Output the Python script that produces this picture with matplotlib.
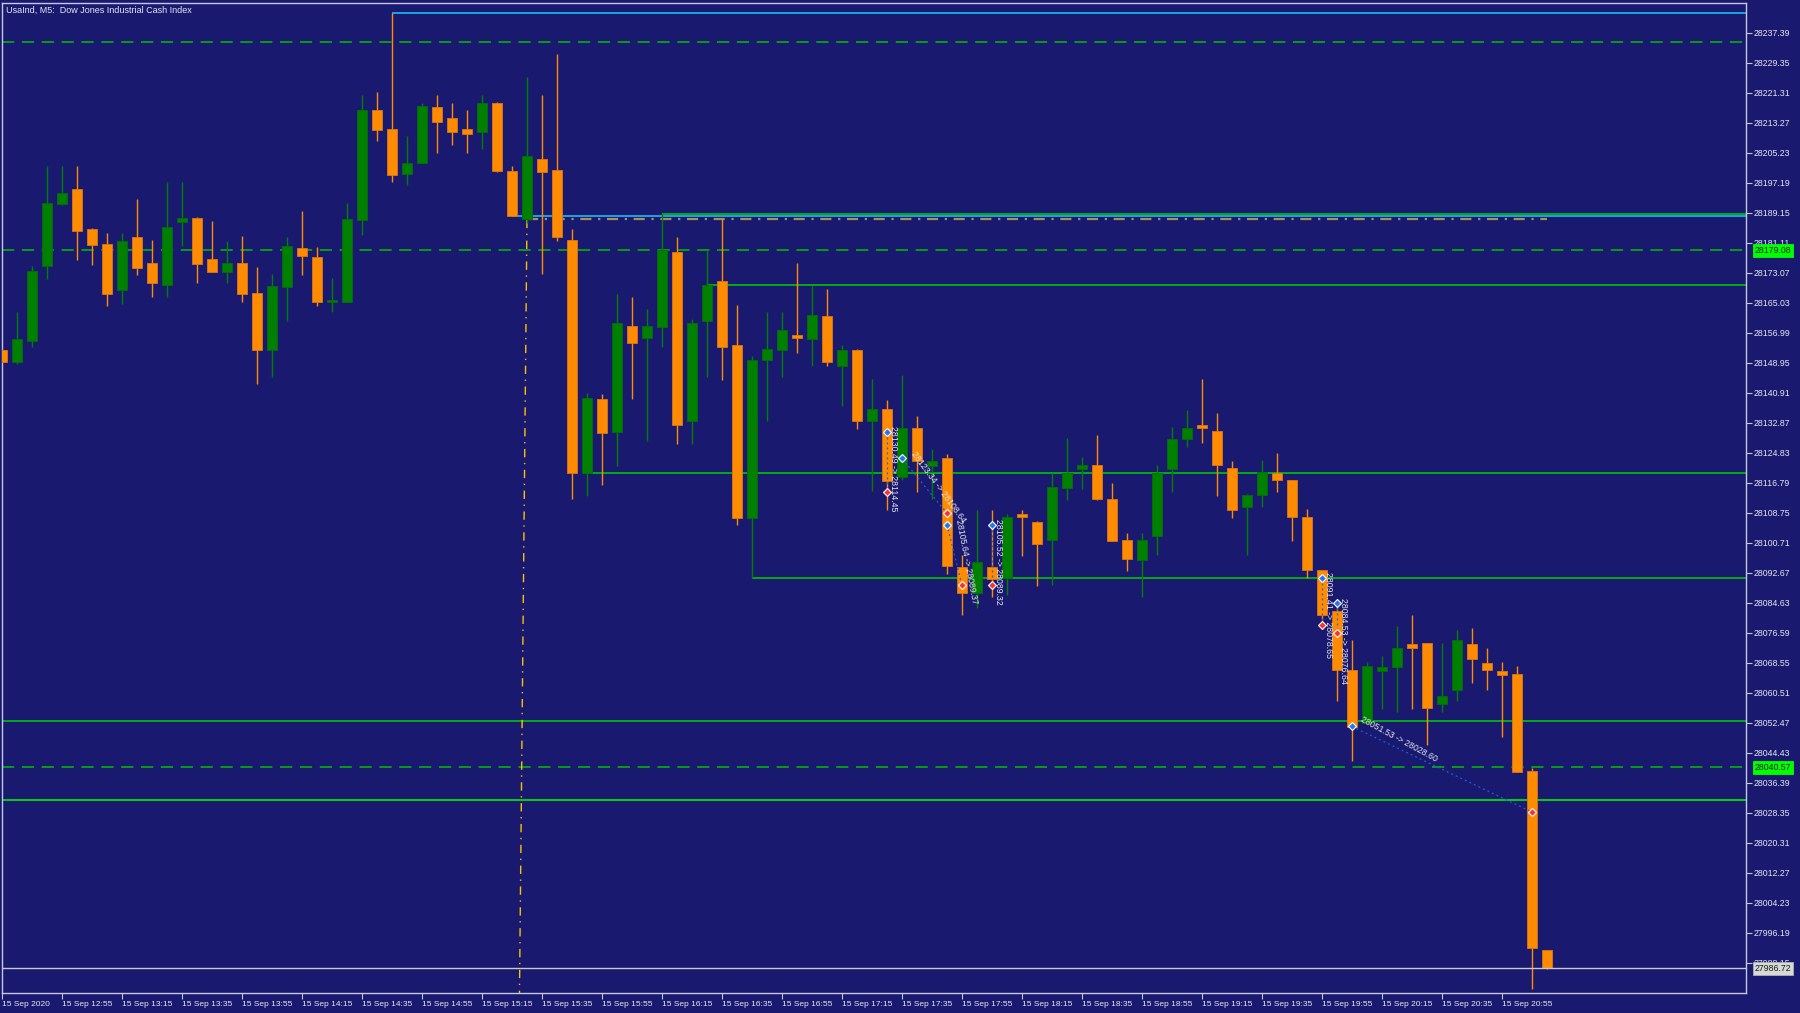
import matplotlib
matplotlib.use("Agg")
import matplotlib.pyplot as plt

plt.rcParams["font.family"] = ["Liberation Sans", "DejaVu Sans"]

TITLE = "UsaInd, M5:  Dow Jones Industrial Cash Index"

# M5 bars, first bar = 15 Sep 12:35
opens = [28152.4, 28149.3, 28154.7, 28174.8, 28191.6, 28195.5, 28184.9, 28180.8, 28168.4, 28182.6,
         28175.6, 28169.7, 28186.7, 28187.9, 28176.8, 28173.4, 28175.6, 28167.8, 28152.3, 28169.4,
         28179.7, 28177.4, 28165.4, 28165.4, 28187.3, 28216.6, 28211.6, 28199.6, 28202.5, 28217.5,
         28214.5, 28211.6, 28210.7, 28218.5, 28200.5, 28187.5, 28203.7, 28200.7, 28181.9, 28119.4,
         28139.4, 28130.5, 28158.8, 28155.6, 28158.7, 28178.6, 28133.5, 28160.3, 28170.8, 28153.7,
         28107.4, 28149.6, 28152.5, 28156.5, 28155.3, 28161.5, 28148.2, 28152.4, 28133.5, 28136.6,
         28118.4, 28131.5, 28121.4, 28123.5, 28094.3, 28087.4, 28094.3, 28091.2, 28108.4, 28106.4,
         28101.5, 28115.3, 28120.4, 28121.5, 28112.5, 28101.4, 28096.2, 28102.6, 28120.6, 28128.5,
         28132.3, 28130.6, 28120.8, 28110.3, 28113.6, 28119.4, 28117.7, 28107.7, 28093.4, 28082.5,
         28066.6, 28052.4, 28066.4, 28067.5, 28073.5, 28073.8, 28057.6, 28061.3, 28073.5, 28068.6,
         28066.5, 28065.5, 28039.6, 27991.5]
highs = [28152.6, 28162.7, 28174.8, 28201.7, 28201.7, 28201.7, 28185.0, 28183.7, 28183.7, 28192.9,
         28181.9, 28197.4, 28197.4, 28188.0, 28186.9, 28181.6, 28182.9, 28174.6, 28172.8, 28182.6,
         28189.7, 28179.9, 28171.6, 28191.7, 28220.8, 28221.6, 28242.7, 28209.8, 28218.5, 28220.8,
         28218.5, 28216.6, 28220.8, 28219.0, 28201.7, 28225.5, 28220.8, 28231.7, 28184.8, 28140.8,
         28140.6, 28167.5, 28166.6, 28163.5, 28188.8, 28182.6, 28160.6, 28179.1, 28187.5, 28164.5,
         28150.7, 28162.7, 28162.7, 28175.8, 28169.6, 28168.7, 28153.7, 28152.7, 28144.7, 28139.0,
         28145.7, 28134.7, 28125.8, 28124.5, 28097.5, 28109.5, 28109.5, 28108.4, 28109.5, 28106.7,
         28119.4, 28128.8, 28123.7, 28129.5, 28116.7, 28103.4, 28103.4, 28121.5, 28131.8, 28136.3,
         28144.6, 28135.6, 28122.6, 28113.9, 28122.8, 28124.8, 28117.7, 28109.7, 28093.4, 28085.6,
         28074.7, 28068.7, 28070.4, 28078.5, 28081.4, 28073.8, 28073.8, 28077.5, 28077.8, 28072.5,
         28068.7, 28067.7, 28040.5, 27991.5]
lows = [28149.1, 28148.6, 28153.3, 28171.4, 28191.3, 28176.4, 28175.2, 28164.3, 28164.7, 28172.4,
        28166.5, 28166.7, 28180.4, 28170.4, 28173.2, 28170.4, 28165.4, 28143.2, 28145.3, 28160.3,
        28172.4, 28164.3, 28162.7, 28165.4, 28183.3, 28208.3, 28197.3, 28196.5, 28202.5, 28205.3,
        28207.4, 28205.3, 28206.4, 28200.2, 28188.2, 28186.5, 28172.7, 28181.5, 28112.4, 28113.4,
        28116.1, 28121.4, 28139.4, 28128.1, 28153.3, 28127.3, 28127.3, 28145.2, 28144.5, 28105.5,
        28091.3, 28133.5, 28145.2, 28151.5, 28148.2, 28148.2, 28137.3, 28131.2, 28114.5, 28109.5,
        28117.6, 28114.3, 28112.5, 28092.4, 28081.4, 28083.3, 28086.2, 28086.7, 28097.2, 28089.2,
        28089.4, 28112.2, 28115.2, 28112.2, 28101.3, 28093.3, 28086.3, 28097.5, 28114.3, 28126.3,
        28127.4, 28113.4, 28107.5, 28097.5, 28110.3, 28114.3, 28101.3, 28091.2, 28080.0, 28058.3,
        28042.3, 28052.4, 28056.3, 28055.3, 28056.3, 28046.5, 28055.3, 28058.3, 28063.2, 28061.3,
        28048.6, 28039.4, 27981.3, 27986.5]
closes = [28149.3, 28155.4, 28173.6, 28191.7, 28194.4, 28184.2, 28180.5, 28167.4, 28181.6, 28174.5,
          28170.4, 28185.3, 28187.8, 28175.4, 28173.2, 28175.6, 28167.4, 28152.3, 28169.6, 28180.3,
          28177.7, 28165.4, 28165.7, 28187.6, 28216.8, 28211.4, 28199.3, 28202.5, 28217.8, 28213.4,
          28210.7, 28210.4, 28218.5, 28200.5, 28188.2, 28204.4, 28200.2, 28182.7, 28119.4, 28139.6,
          28130.2, 28159.7, 28154.3, 28158.8, 28179.2, 28132.3, 28159.7, 28169.8, 28153.3, 28107.4,
          28149.8, 28152.7, 28157.7, 28155.6, 28161.7, 28149.3, 28152.4, 28133.5, 28136.5, 28117.3,
          28131.5, 28122.7, 28122.7, 28094.5, 28087.4, 28095.6, 28091.1, 28107.6, 28107.6, 28100.5,
          28115.7, 28119.4, 28121.5, 28112.5, 28101.3, 28096.5, 28101.4, 28119.4, 28128.5, 28131.6,
          28131.4, 28121.6, 28109.5, 28113.5, 28119.6, 28117.6, 28107.6, 28093.4, 28081.4, 28066.6,
          28051.4, 28067.6, 28067.4, 28072.5, 28072.6, 28056.5, 28059.7, 28074.7, 28069.6, 28066.6,
          28065.3, 28039.4, 27992.2, 27986.72]

# time axis labels (every 4th bar)
x_label_bars = [0, 4, 8, 12, 16, 20, 24, 28, 32, 36, 40, 44, 48, 52, 56, 60, 64, 68, 72, 76, 80, 84, 88, 92, 96, 100]
x_labels = ["15 Sep 2020", "15 Sep 12:55", "15 Sep 13:15", "15 Sep 13:35", "15 Sep 13:55", "15 Sep 14:15",
            "15 Sep 14:35", "15 Sep 14:55", "15 Sep 15:15", "15 Sep 15:35", "15 Sep 15:55", "15 Sep 16:15",
            "15 Sep 16:35", "15 Sep 16:55", "15 Sep 17:15", "15 Sep 17:35", "15 Sep 17:55", "15 Sep 18:15",
            "15 Sep 18:35", "15 Sep 18:55", "15 Sep 19:15", "15 Sep 19:35", "15 Sep 19:55", "15 Sep 20:15",
            "15 Sep 20:35", "15 Sep 20:55"]

# price scale
y_ticks = [28237.39, 28229.35, 28221.31, 28213.27, 28205.23, 28197.19, 28189.15, 28181.11, 28173.07,
           28165.03, 28156.99, 28148.95, 28140.91, 28132.87, 28124.83, 28116.79, 28108.75, 28100.71,
           28092.67, 28084.63, 28076.59, 28068.55, 28060.51, 28052.47, 28044.43, 28036.39, 28028.35,
           28020.31, 28012.27, 28004.23, 27996.19, 27988.15]

# horizontal levels: (price, start bar or None for full width, colour)
solid_levels = [(28242.7, 26, "#1ec8ff"), (28188.3, 34, "#1ec8ff"), (28188.8, 44, "#00d000"),
                (28169.8, 47, "#00d000"), (28119.5, 39, "#00d000"), (28091.3, 50, "#00d000"),
                (28052.9, None, "#00d000"), (28031.8, None, "#00ff00")]
dashed_levels = [28234.9, 28179.08, 28040.57]
tan_level = (28187.5, 35, 103)
yellow_line = ([35.0, 34.5], [28187.3, 27980.1])
bid = 27986.72

# trades: open bar, open price, close bar, close price, label
trades = [(59, 28130.49, 59, 28114.45, "28130.49 -> 28114.45"),
          (60, 28123.34, 63, 28108.64, "28123.34 -> 28108.64"),
          (63, 28105.64, 64, 28089.37, "28105.64 -> 28089.37"),
          (66, 28105.52, 66, 28089.32, "28105.52 -> 28089.32"),
          (88, 28091.41, 88, 28078.65, "28091.41 -> 28078.65"),
          (89, 28084.53, 89, 28076.64, "28084.53 -> 28076.64"),
          (90, 28051.53, 102, 28028.60, "28051.53 -> 28028.60")]

BG = "#191970"
FG = "#e6e6f0"
BULL = "#008000"
BEAR = "#ff8c00"

fig = plt.figure(figsize=(18, 10.13), dpi=100, facecolor=BG)
ax = fig.add_axes([2 / 1800, 20 / 1013, 1744 / 1800, 990 / 1013], facecolor=BG)

x_right = 116.27
ax.set_xlim(0, x_right)
ax.set_ylim(27980.1, 28245.4)

# candles
for i, (o, h, l, c) in enumerate(zip(opens, highs, lows, closes)):
    col = BULL if c >= o else BEAR
    edge = "#0a6a0a" if c >= o else "#d9771a"
    ax.vlines(i, l, h, color=col, lw=1.0, zorder=3)
    ax.bar(i, max(abs(c - o), 0.35), bottom=min(o, c), width=0.68,
           color=col, edgecolor=edge, linewidth=0.6, zorder=4)

# levels
for price, start, col in solid_levels:
    if start is None:
        ax.axhline(price, color=col, lw=1.1, zorder=2)
    else:
        ax.hlines(price, start, x_right, color=col, lw=1.1, zorder=2)
for price in dashed_levels:
    ax.axhline(price, color="#00c000", lw=1.1, ls=(0, (8, 5)), zorder=2)
ax.hlines(tan_level[0], tan_level[1], tan_level[2], color="#a8905a", lw=1.6,
          ls=(0, (5, 3, 1, 3)), zorder=2)
ax.plot(yellow_line[0], yellow_line[1], color="#ffc000", lw=1.0, ls=(0, (6, 4, 1, 4)), zorder=2)
ax.axhline(bid, color="#c8c8c8", lw=1.0, zorder=5)

# trade history
for ob, op, cb, cp, label in trades:
    ax.plot([ob, cb], [op, cp], color="#2060d0", lw=0.9, ls=(0, (1.5, 2.5)), zorder=6)
    ax.plot(ob, op, marker="D", ms=4.5, mfc="#1e78ff", mec="white", mew=0.8, zorder=7)
    ax.plot(cb, cp, marker="D", ms=4.5, mfc="#ff3030", mec="white", mew=0.8, zorder=7)
    if ob == cb:
        ax.text(ob + 0.45, op + 1.5, label, rotation=-90, rotation_mode="anchor",
                ha="left", va="center", fontsize=6.3, color=FG, zorder=8)
    else:
        dx = (cb - ob) * 15.0
        dy = (cp - op) / 0.268
        import math
        ang = math.degrees(math.atan2(dy, dx))
        ax.text(ob + 0.5, op + 1.0, label, rotation=ang - 3, rotation_mode="anchor",
                ha="left", va="bottom", fontsize=6.3, color=FG, zorder=8)

# axes styling
for s in ax.spines.values():
    s.set_color("#c8c8dc")
    s.set_linewidth(1.0)
ax.yaxis.tick_right()
ax.set_yticks(y_ticks)
ax.set_yticklabels([f"{v:.2f}" for v in y_ticks])
ax.set_xticks(x_label_bars)
ax.set_xticklabels(x_labels)
for lab in ax.get_xticklabels():
    lab.set_ha("left")
ax.tick_params(axis="y", direction="out", length=4, width=0.8, color="#c8c8dc",
               labelcolor=FG, labelsize=6.3, pad=1.5)
ax.tick_params(axis="x", direction="out", length=4, width=0.8, color="#c8c8dc",
               labelcolor=FG, labelsize=6.0, pad=1.5)

# price label boxes
ytr = ax.get_yaxis_transform()
for price, fc in [(28179.08, "#00ff00"), (28040.57, "#00ff00"), (bid, "#d8d8d8")]:
    ax.text(1.0048, price, f"{price:.2f}", transform=ytr, ha="left", va="center",
            fontsize=6.3, color="#102010",
            bbox=dict(boxstyle="square,pad=0.2", fc=fc, ec="#b0b0b0" if fc != "#00ff00" else fc, lw=0.6),
            zorder=10, clip_on=False)

ax.text(0.0025, 0.997, TITLE, transform=ax.transAxes, ha="left", va="top",
        fontsize=6.5, color=FG, zorder=10)

fig.savefig("out.png", dpi=100, facecolor=BG)
